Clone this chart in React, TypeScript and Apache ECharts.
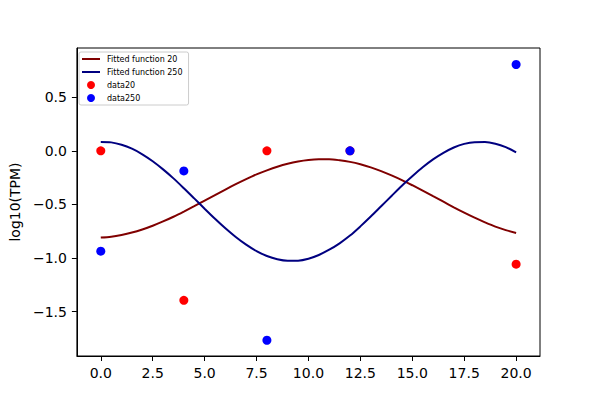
import React, { useEffect, useRef } from "react";
import * as echarts from "echarts";

// Sample times (x) for the fitted curves
const fitX = [0, 0.5, 1, 1.5, 2, 2.5, 3, 3.5, 4, 4.5, 5, 5.5, 6, 6.5, 7, 7.5, 8, 8.5, 9, 9.5, 10, 10.5, 11, 11.5, 12, 12.5, 13, 13.5, 14, 14.5, 15, 15.5, 16, 16.5, 17, 17.5, 18, 18.5, 19, 19.5, 20];
// Fitted function 20
const fit20 = [-0.809, -0.801, -0.785, -0.763, -0.734, -0.699, -0.659, -0.615, -0.567, -0.517, -0.465, -0.413, -0.361, -0.311, -0.264, -0.22, -0.182, -0.148, -0.12, -0.099, -0.085, -0.079, -0.079, -0.088, -0.103, -0.125, -0.154, -0.189, -0.229, -0.273, -0.321, -0.371, -0.423, -0.475, -0.527, -0.577, -0.624, -0.667, -0.707, -0.74, -0.766];
// Fitted function 250
const fit250 = [0.083, 0.079, 0.057, 0.02, -0.032, -0.097, -0.173, -0.257, -0.349, -0.444, -0.54, -0.634, -0.723, -0.804, -0.876, -0.936, -0.982, -1.012, -1.026, -1.025, -1.007, -0.972, -0.923, -0.863, -0.791, -0.705, -0.613, -0.517, -0.421, -0.326, -0.238, -0.154, -0.08, -0.019, 0.031, 0.065, 0.081, 0.082, 0.067, 0.035, -0.014];

// Observed data
const dataX = [0, 4, 8, 12, 20];
const data20 = [0, -1.395, 0, 0, -1.058];
const data250 = [-0.937, -0.187, -1.768, 0, 0.806];

const xTicks = [0, 2.5, 5, 7.5, 10, 12.5, 15, 17.5, 20];
const yTicks = [-1.5, -1.0, -0.5, 0, 0.5];

const FONT = "DejaVu Sans";

export default function App() {
  const ref = useRef<HTMLDivElement>(null);
  useEffect(() => {
    if (!ref.current) return;
    const chart = echarts.init(ref.current, undefined, { renderer: "svg" });
    const fmt = (v: number) => {
      const s = Math.abs(v).toFixed(1);
      return v < 0 ? "\u2212" + s : s;
    };
    const axisCommon = {
      axisLine: { show: true, onZero: false, lineStyle: { color: "#000", width: 1 } },
      axisTick: { show: true, inside: false, length: 5, lineStyle: { color: "#000", width: 1 } },
      splitLine: { show: false },
    };
    chart.setOption({
      animation: false,
      backgroundColor: "#fff",
      grid: {
        left: 75,
        top: 48,
        right: 60,
        bottom: 44,
        show: true,
        borderColor: "#000",
        borderWidth: 1,
        backgroundColor: "transparent",
      },
      legend: {
        orient: "vertical",
        left: 79,
        top: 52,
        padding: [3, 6, 3, 2],
        itemGap: 5,
        itemWidth: 18,
        itemHeight: 8,
        borderColor: "#cccccc",
        borderWidth: 1,
        borderRadius: 2,
        backgroundColor: "rgba(255,255,255,0.8)",
        textStyle: { fontFamily: FONT, fontSize: 8, color: "#000", padding: [0, 0, 0, 2] },
        data: [
          { name: "Fitted function 20", itemStyle: { opacity: 0 } },
          { name: "Fitted function 250", itemStyle: { opacity: 0 } },
          { name: "data20", icon: "circle" },
          { name: "data250", icon: "circle" },
        ],
      },
      xAxis: {
        type: "value",
        min: -1.15,
        max: 21.15,
        ...axisCommon,
        axisTick: { ...axisCommon.axisTick, customValues: xTicks },
        axisLabel: {
          customValues: xTicks,
          formatter: (v: number) => fmt(v),
          fontFamily: FONT,
          fontSize: 14,
          color: "#000",
          margin: 10,
        },
      },
      yAxis: {
        type: "value",
        min: -1.915,
        max: 0.96,
        name: "log10(TPM)",
        nameLocation: "middle",
        nameGap: 50,
        nameTextStyle: { fontFamily: FONT, fontSize: 14, color: "#000" },
        ...axisCommon,
        axisTick: { ...axisCommon.axisTick, customValues: yTicks },
        axisLabel: {
          customValues: yTicks,
          formatter: (v: number) => fmt(v),
          fontFamily: FONT,
          fontSize: 14,
          color: "#000",
          margin: 10,
        },
      },
      series: [
        {
          name: "Fitted function 20",
          type: "line",
          data: fitX.map((x, i) => [x, fit20[i]]),
          smooth: 0.3,
          symbol: "none",
          lineStyle: { color: "#800000", width: 2 },
          itemStyle: { color: "#800000" },
          z: 2,
        },
        {
          name: "Fitted function 250",
          type: "line",
          data: fitX.map((x, i) => [x, fit250[i]]),
          smooth: 0.3,
          symbol: "none",
          lineStyle: { color: "#000080", width: 2 },
          itemStyle: { color: "#000080" },
          z: 2,
        },
        {
          name: "data20",
          type: "scatter",
          data: dataX.map((x, i) => [x, data20[i]]),
          symbol: "circle",
          symbolSize: 9,
          itemStyle: { color: "#ff0000", opacity: 1 },
          z: 3,
        },
        {
          name: "data250",
          type: "scatter",
          data: dataX.map((x, i) => [x, data250[i]]),
          symbol: "circle",
          symbolSize: 9,
          itemStyle: { color: "#0000ff", opacity: 1 },
          z: 4,
        },
      ],
    });
    return () => chart.dispose();
  }, []);
  return (
    <div
      ref={ref}
      style={{ position: "fixed", left: 0, top: 0, width: 600, height: 400, background: "#fff" }}
    />
  );
}
